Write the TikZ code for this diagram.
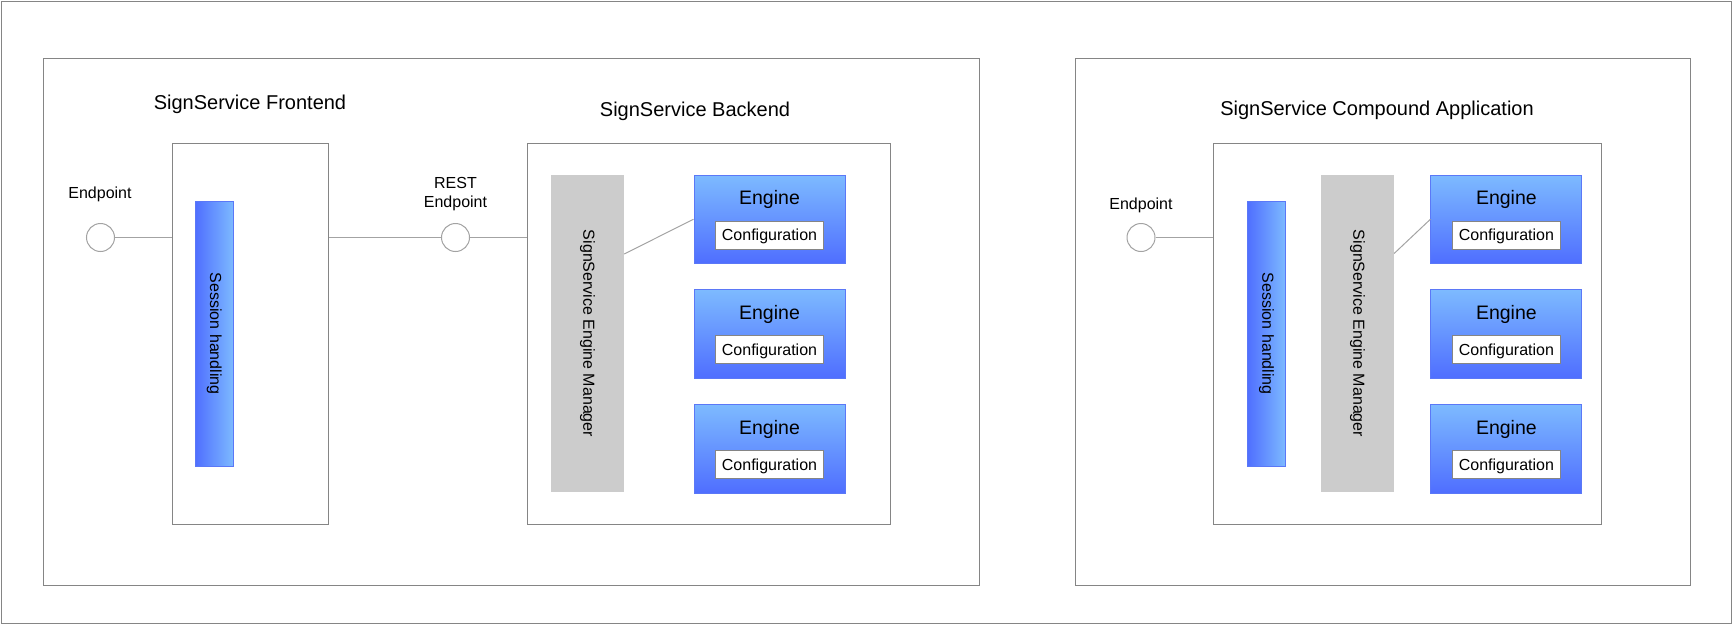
\documentclass[tikz,border=0pt]{standalone}
\usepackage{fontspec}
\setmainfont{Liberation Sans}
\usetikzlibrary{positioning}

\definecolor{framegray}{HTML}{858585}
\definecolor{linegray}{HTML}{A3A3A3}
\definecolor{mgrgray}{HTML}{CCCCCC}
\definecolor{engtop}{HTML}{7DBAFF}
\definecolor{engbot}{HTML}{4F6EFF}
\definecolor{engborder}{HTML}{5B78F7}

\tikzset{
  box/.style={draw=framegray,line width=1pt,inner sep=0pt},
  title/.style={font=\fontsize{20}{24}\selectfont,inner sep=0pt},
  small/.style={font=\fontsize{16}{19}\selectfont,inner sep=0pt},
  vtext/.style={small,rotate=-90},
  endpt/.style={circle,draw=linegray,line width=1pt,fill=white,minimum size=28pt,inner sep=0pt},
  wire/.style={draw=linegray,line width=1pt},
  session/.style={draw=engborder,line width=1pt,left color=engbot,right color=engtop,
    minimum width=38.5pt,minimum height=265.5pt,inner sep=0pt},
  mgr/.style={fill=mgrgray,minimum width=73pt,minimum height=317pt,inner sep=0pt},
  engine/.style={draw=engborder,line width=1pt,top color=engtop,bottom color=engbot,
    minimum width=151pt,minimum height=88.5pt,inner sep=0pt},
  engtext/.style={font=\fontsize{19.5}{23}\selectfont,inner sep=0pt},
  config/.style={box,fill=white,small,text depth=0pt,minimum width=108.5pt,minimum height=28pt}
}

\begin{document}
\begin{tikzpicture}[x=1pt,y=-1pt]
  \useasboundingbox (0,0) rectangle (1732,624);
  \draw[framegray,line width=1pt] (1,1) rectangle (1731,623);

  % outer groups
  \node[box,minimum width=936pt,minimum height=527pt] (leftgrp) at (511,321.5) {};
  \node[box,minimum width=615pt,minimum height=527pt] (rightgrp) at (1382.5,321.5) {};

  % titles
  \node[title] (frontTitle) at (250,104) {SignService Frontend};
  \node[title] (backTitle) at (695,111) {SignService Backend};
  \node[title] (compTitle) at (1377,110) {SignService Compound Application};

  % frontend
  \node[box,minimum width=156.5pt,minimum height=381pt] (front) at (250.25,334) {};
  \node[session] (sessL) at (214.25,333.75) {};
  \node[vtext] (sessLtxt) at (sessL) {Session handling};
  \node[endpt] (epL) at (100.5,237.5) {};
  \node[small] (epLtxt) at (100,194) {Endpoint};
  \draw[wire] (epL) -- (epL -| front.west);

  % backend
  \node[box,minimum width=362.5pt,minimum height=381pt] (back) at (708.75,334) {};
  \node[mgr] (mgrL) at (587.5,333.5) {};
  \node[vtext] (mgrLtxt) at (mgrL) {SignService Engine Manager};
  \foreach \i/\y in {1/219.25,2/333.75,3/448.75}{
    \node[engine] (engL\i) at (769.5,\y) {};
    \node[engtext] (engLtxt\i) at ([yshift=-25pt]engL\i.north) {Engine};
    \node[config] (cfgL\i) at ([yshift=-60.5pt]engL\i.north) {Configuration};
  }
  \draw[wire] ([yshift=79.5pt]mgrL.east) -- (engL1.west);

  % REST endpoint
  \node[endpt] (restEp) at (455.5,237.5) {};
  \node[small,align=center] (restTxt) at (455.5,194.5) {REST\\Endpoint};
  \draw[wire] (front.east |- restEp) -- (restEp);
  \draw[wire] (restEp) -- (restEp -| back.west);

  % compound application
  \node[box,minimum width=388pt,minimum height=381pt] (comp) at (1407.5,334) {};
  \node[endpt] (epR) at (1141,237.5) {};
  \node[small] (epRtxt) at (1141,205) {Endpoint};
  \draw[wire] (epR) -- (epR -| comp.west);
  \node[session] (sessR) at (1266.4,333.8) {};
  \node[vtext] (sessRtxt) at (sessR) {Session handling};
  \node[mgr] (mgrR) at (1357.4,333.5) {};
  \node[vtext] (mgrRtxt) at (mgrR) {SignService Engine Manager};
  \foreach \i/\y in {1/219.25,2/333.75,3/448.75}{
    \node[engine] (engR\i) at (1506.4,\y) {};
    \node[engtext] (engRtxt\i) at ([yshift=-25pt]engR\i.north) {Engine};
    \node[config] (cfgR\i) at ([yshift=-60.5pt]engR\i.north) {Configuration};
  }
  \draw[wire] ([yshift=80pt]mgrR.east) -- (engR1.west);
\end{tikzpicture}
\end{document}
